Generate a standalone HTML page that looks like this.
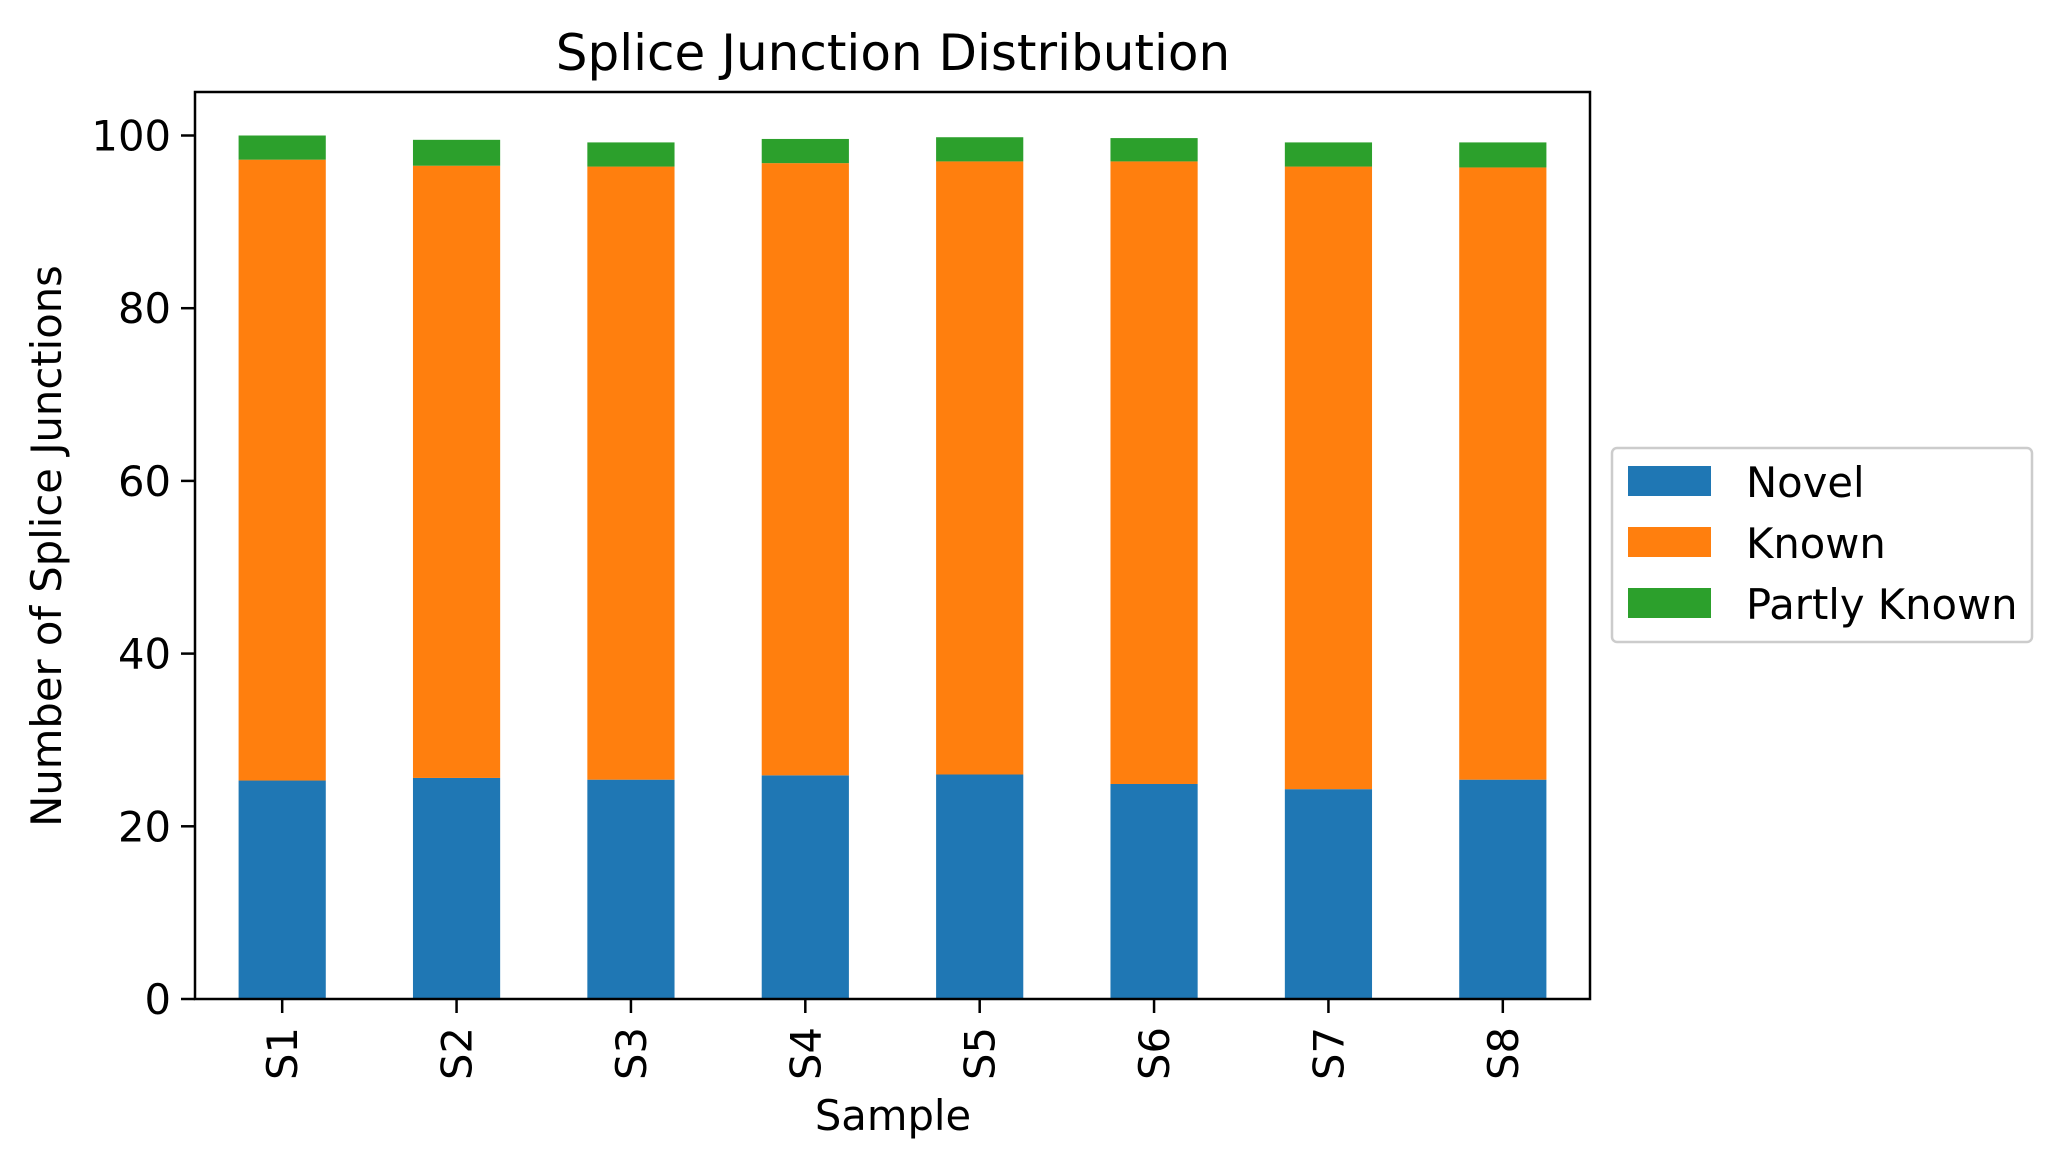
<!DOCTYPE html>
<html><head><meta charset="utf-8"><style>
html,body{margin:0;padding:0;background:#fff;}
svg{display:block;font-family:"DejaVu Sans","Liberation Sans",sans-serif;}
</style></head><body>
<svg id="chart" width="2062" height="1167" viewBox="0 0 2062 1167">
<text x="893" y="70" font-size="50" text-anchor="middle">Splice Junction Distribution</text>
<g id="bars"></g>
<g id="axes"></g>
<text x="893" y="1130" font-size="41.7" text-anchor="middle">Sample</text>
<text transform="translate(61,546) rotate(-90)" font-size="41.7" text-anchor="middle">Number of Splice Junctions</text>
<g>
<rect x="1612" y="448" width="420" height="194" rx="5" fill="#fff" stroke="#ccc" stroke-width="2.5"/>
<g><rect x="1628" y="466" width="83" height="30" fill="#1f77b4"/><text x="1746" y="497" font-size="41.7">Novel</text></g>
<g><rect x="1628" y="527" width="83" height="30" fill="#ff7f0e"/><text x="1746" y="558" font-size="41.7">Known</text></g>
<g><rect x="1628" y="588" width="83" height="30" fill="#2ca02c"/><text x="1746" y="619" font-size="41.7">Partly Known</text></g>
</g>
</svg>
<script>
const categories = ["S1","S2","S3","S4","S5","S6","S7","S8"];
const novel = [25.3,25.6,25.4,25.9,26.0,24.9,24.3,25.4];
const known = [71.9,70.9,71.0,70.9,71.0,72.1,72.1,70.9];
const partlyKnown = [2.8,3.0,2.8,2.8,2.8,2.7,2.8,2.9];
const yTicks = [0,20,40,60,80,100];
const seriesNames = ["novel","known","partly-known"];
const colors = ["#1f77b4","#ff7f0e","#2ca02c"];

const L=195,R=1590,T=92,B=999,Y0=999,Y100=135.5;
const ys = v => Y0 - v*(Y0-Y100)/100;
const step = (R-L)/categories.length;
const xs = i => L + step*(i+0.5);
const bw = step*0.5;
const NS="http://www.w3.org/2000/svg";
const bars=document.getElementById('bars'), axes=document.getElementById('axes');
const series=[novel,known,partlyKnown];
categories.forEach((c,i)=>{
  let base=0;
  series.forEach((s,k)=>{
    const r=document.createElementNS(NS,'rect');
    r.setAttribute('x',xs(i)-bw/2);
    r.setAttribute('width',bw);
    r.setAttribute('y',ys(base+s[i]));
    r.setAttribute('height',ys(base)-ys(base+s[i]));
    r.setAttribute('fill',colors[k]);
    
    
    bars.appendChild(r);
    base+=s[i];
  });
  const t=document.createElementNS(NS,'line');
  t.setAttribute('x1',xs(i));t.setAttribute('x2',xs(i));t.setAttribute('y1',B);t.setAttribute('y2',B+14);
  t.setAttribute('stroke','#000');t.setAttribute('stroke-width','2.5');
  
  
  axes.appendChild(t);
  const lb=document.createElementNS(NS,'text');
  lb.setAttribute('transform','translate('+(xs(i)+15)+','+(B+28)+') rotate(-90)');
  lb.setAttribute('font-size','41.7');lb.setAttribute('text-anchor','end');
  lb.textContent=c;
  
  
  axes.appendChild(lb);
});
yTicks.forEach(v=>{
  const t=document.createElementNS(NS,'line');
  t.setAttribute('x1',L-14);t.setAttribute('x2',L);t.setAttribute('y1',ys(v));t.setAttribute('y2',ys(v));
  t.setAttribute('stroke','#000');t.setAttribute('stroke-width','2.5');
  
  
  axes.appendChild(t);
  const lb=document.createElementNS(NS,'text');
  lb.setAttribute('x',L-24);lb.setAttribute('y',ys(v)+15);
  lb.setAttribute('font-size','41.7');lb.setAttribute('text-anchor','end');
  lb.textContent=v;
  
  
  axes.appendChild(lb);
});
const fr=document.createElementNS(NS,'rect');
fr.setAttribute('x',L);fr.setAttribute('y',T);fr.setAttribute('width',R-L);fr.setAttribute('height',B-T);
fr.setAttribute('fill','none');fr.setAttribute('stroke','#000');fr.setAttribute('stroke-width','2.5');


axes.appendChild(fr);
</script>
</body></html>
